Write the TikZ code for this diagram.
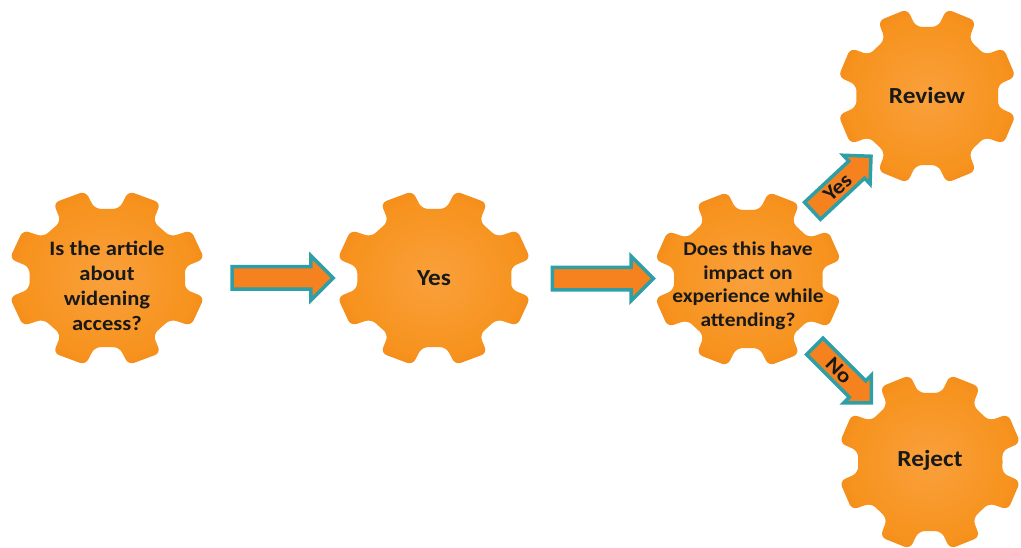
\documentclass[tikz,border=0pt]{standalone}
\usepackage{fontspec}
\setmainfont{Carlito}[FakeStretch=1.1]
\usepackage{tikz}
\usetikzlibrary{calc}
\usetikzlibrary{positioning}
\usetikzlibrary{shapes.arrows}
\usetikzlibrary{backgrounds}

\definecolor{gearorange}{HTML}{F7931E}
\definecolor{gearlight}{HTML}{F9A03C}
\definecolor{geardark}{HTML}{EC7A12}
\definecolor{arroworange}{HTML}{F5821F}
\definecolor{arrowteal}{HTML}{2E9FA6}

\pgfdeclareradialshading{gearball}{\pgfpoint{0bp}{0bp}}{%
  color(0bp)=(gearlight); color(22bp)=(gearorange); color(40bp)=(geardark); color(50bp)=(geardark)}

% gear outline round a coordinate: #1 centre, #2 horizontal stretch
\newcommand{\gear}[2]{%
  \shade[shading=gearball, rounded corners=6pt, shift={(#1)}, xscale=#2]
    (0:70) foreach \a in {22.5,67.5,...,337.5} {
      -- (\a-13.5:70) -- (\a-10:89) -- (\a+10:89) -- (\a+13.5:70)
    } -- cycle;
}

\tikzset{
  gearnode/.style={align=center, text=black!90, font=\fontsize{20.5}{25}\selectfont\bfseries},
  bigword/.style={font=\fontsize{23}{25}\selectfont\bfseries},
  blockarrow/.style={single arrow, draw=arrowteal, fill=arroworange, line width=3.5pt,
    single arrow head extend=11pt, minimum height=101pt, inner ysep=9.5pt, inner xsep=0pt},
  choicearrow/.style={blockarrow, minimum height=80pt, inner ysep=3pt, inner xsep=3pt,
    single arrow head extend=8pt, text=black!90, font=\fontsize{21}{21}\selectfont\bfseries}
}

\begin{document}
\begin{tikzpicture}[x=1pt,y=1pt]
\useasboundingbox (0,0) rectangle (1021,548);

% gear centres
\coordinate (c1) at (107,270);
\coordinate (c2) at (434,270);
\coordinate (c3) at (748,269);
\coordinate (c4) at (927,452);
\coordinate (c5) at (930,86);

\node[gearnode, yshift=-8pt] (g1) at (c1) {Is the article\\about\\widening\\access?};
\node[gearnode, bigword] (g2) at (c2) {Yes};
\node[gearnode, yshift=-7pt, font=\fontsize{19.5}{23.5}\selectfont\bfseries] (g3) at (c3)
  {Does this have\\impact on\\experience while\\attending?};
\node[gearnode, bigword] (g4) at (c4) {Review};
\node[gearnode, bigword, yshift=2pt] (g5) at (c5) {Reject};

\begin{pgfonlayer}{background}
\fill[white] (0,0) rectangle (1021,548);
\gear{c1}{1.12}
\gear{c2}{1.11}
\gear{c3}{1.07}
\gear{c4}{1.02}
\gear{c5}{1.04}
\end{pgfonlayer}

\node[blockarrow] (a1) at ($(c1)!0.52!(c2)$) {};
\node[blockarrow] (a2) at ($(c2)!0.52!(c3)$) {};
\node[choicearrow, rotate=43] (yes) at ($(c3)!0.5!(c4)$) {Yes};
\node[choicearrow, rotate=-45] (no) at ($(c3)!0.5!(c5)$) {No};
\end{tikzpicture}
\end{document}
